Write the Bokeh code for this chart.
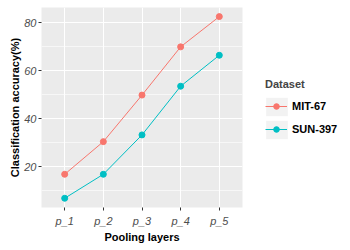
from bokeh.plotting import figure
from bokeh.models import (FactorRange, Range1d, FixedTicker, Legend, LegendItem,
                          ColumnDataSource)
from bokeh.layouts import row
from bokeh.embed import file_html
from bokeh.resources import INLINE

# ---- data ----
layers = ["p_1", "p_2", "p_3", "p_4", "p_5"]
mit67 = [16.8, 30.4, 49.8, 69.9, 82.5]
sun397 = [6.8, 16.8, 33.2, 53.5, 66.4]
y_ticks = [20, 40, 60, 80]
y_minor = [10, 30, 50, 70]
series_names = ["MIT-67", "SUN-397"]
series_cols = ["mit", "sun"]
series_colors = ["#F8766D", "#00BFC4"]

FONT = "Liberation Sans"
H = 246

p = figure(width=250, height=H, output_backend="svg", toolbar_location=None,
           x_range=FactorRange(factors=layers, range_padding=0.1,
                               range_padding_units="absolute"),
           y_range=Range1d(2.95, 86.3),
           min_border_left=41, min_border_right=8,
           min_border_top=7, min_border_bottom=35)

p.background_fill_color = "#EBEBEB"
p.border_fill_color = "white"
p.outline_line_color = None

p.xgrid.grid_line_color = "white"
p.xgrid.grid_line_width = 1
p.ygrid.grid_line_color = "white"
p.ygrid.grid_line_width = 1
p.ygrid.minor_grid_line_color = "white"
p.ygrid.minor_grid_line_width = 0.6
p.yaxis.ticker = FixedTicker(ticks=y_ticks, minor_ticks=y_minor)

for ax in (p.xaxis[0], p.yaxis[0]):
    ax.axis_line_color = None
    ax.major_tick_line_color = "#333333"
    ax.major_tick_out = 3
    ax.major_tick_in = 0
    ax.minor_tick_line_color = None
    ax.major_label_text_font = FONT
    ax.major_label_text_font_size = "11px"
    ax.major_label_text_font_style = "italic"
    ax.major_label_text_color = "#4D4D4D"
    ax.axis_label_text_font = FONT
    ax.axis_label_text_font_size = "11px"
    ax.axis_label_text_font_style = "bold"
    ax.axis_label_text_color = "black"

p.xaxis.axis_label = "Pooling layers"
p.yaxis.axis_label = "Classification accuracy(%)"
p.xaxis.major_label_standoff = 4
p.xaxis.axis_label_standoff = 1
p.yaxis.major_label_standoff = 1
p.yaxis.axis_label_standoff = 0

src = ColumnDataSource(dict(layer=layers, mit=mit67, sun=sun397))
for col, color in zip(series_cols, series_colors):
    p.line(x="layer", y=col, source=src, line_color=color, line_width=1)
    p.scatter(x="layer", y=col, source=src, size=6,
              fill_color=color, line_color=color)

# ---- legend panel (same data renderers, y range chosen so nothing shows) ----
lf = figure(width=88, height=H, output_backend="svg", toolbar_location=None,
            x_range=FactorRange(factors=layers), y_range=Range1d(500, 501),
            x_axis_type=None, y_axis_type=None,
            min_border_left=0, min_border_right=0,
            min_border_top=7, min_border_bottom=39)
lf.outline_line_color = None
lf.grid.visible = False
lf.background_fill_color = "white"
lf.border_fill_color = "white"

key_items = []
leg_items = []
for col, name, color in zip(series_cols, series_names, series_colors):
    kb = lf.rect(x="layer", y=col, width=0.5, height=1, source=src,
                 fill_color="#F2F2F2", line_color=None)
    kl = lf.line(x="layer", y=col, source=src, line_color=color, line_width=1)
    ks = lf.scatter(x="layer", y=col, source=src,
                    fill_color=color, line_color=color)
    key_items.append(LegendItem(label=" ", renderers=[kb]))
    leg_items.append(LegendItem(label=name, renderers=[kl, ks]))

key_legend = Legend(items=key_items, location=(12.5, 66.5), margin=0,
                    padding=0, spacing=0, glyph_width=27, glyph_height=23,
                    label_height=23, label_standoff=0,
                    background_fill_alpha=0, border_line_color=None)
key_legend.label_text_font_size = "11px"

legend = Legend(items=leg_items, location=(15, 71), margin=0, padding=0,
                spacing=9, glyph_width=22, glyph_height=14, label_height=14,
                label_standoff=5, title="Dataset", title_standoff=9,
                background_fill_alpha=0, border_line_color=None)
legend.title_text_font = FONT
legend.title_text_font_size = "11px"
legend.title_text_font_style = "bold"
legend.label_text_font = FONT
legend.label_text_font_size = "11px"
legend.label_text_font_style = "bold"
legend.label_text_color = "black"

lf.add_layout(key_legend)
lf.add_layout(legend)

layout = row(p, lf)
open("out.html", "w").write(file_html(layout, INLINE))
